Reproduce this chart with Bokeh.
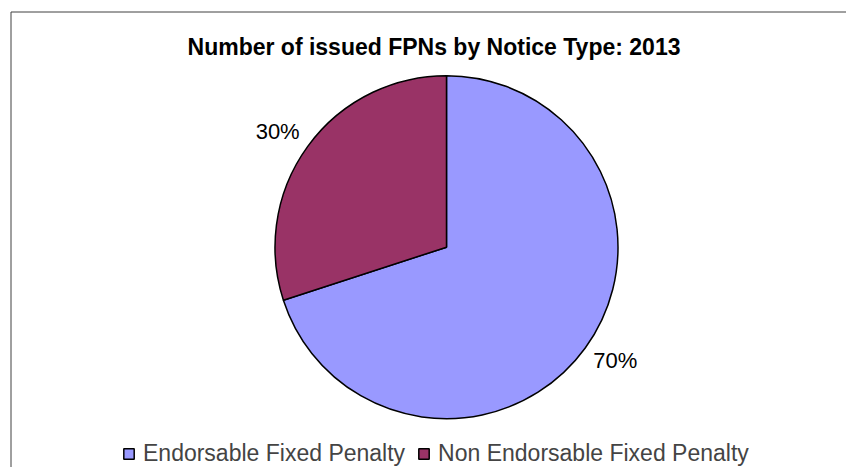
import math
from bokeh.plotting import figure
from bokeh.models import ColumnDataSource, Range1d, Label
from bokeh.core.properties import value
from bokeh.embed import file_html
from bokeh.resources import INLINE

# ---- data ----
categories = ["Endorsable Fixed Penalty", "Non Endorsable Fixed Penalty"]
shares = [70, 30]
colors = ["#9999FF", "#993366"]
title_text = "Number of issued FPNs by Notice Type: 2013"

# ---- layout ----
W, H = 846, 467
p = figure(width=W, height=H, output_backend="svg", toolbar_location=None,
           x_range=Range1d(0, W), y_range=Range1d(0, H),
           x_axis_type=None, y_axis_type=None, min_border=0)
p.grid.visible = False
p.outline_line_color = None
p.background_fill_color = "white"
p.border_fill_color = "white"


def px(x):
    return x


def py(y):
    return H - y


# chart border (top & left visible in the reference)
p.segment(x0=[px(10.5), px(10.5)], y0=[py(11.5), py(11.5)],
          x1=[W, px(10.5)], y1=[py(11.5), 0],
          line_color="#404040", line_width=1)

cx, cy, r = px(446), py(246.7), 171.5
total = float(sum(shares))
starts, ends, mids, labels = [], [], [], []
cum = 0.0
for s in shares:
    a_end = math.pi / 2 - 2 * math.pi * cum / total
    cum += s
    a_start = math.pi / 2 - 2 * math.pi * cum / total
    starts.append(a_start)
    ends.append(a_end)
    mids.append((a_start + a_end) / 2)
    labels.append(f"{round(100 * s / total)}%")

src = ColumnDataSource(dict(category=categories, share=shares, color=colors,
                            start=starts, end=ends))
p.wedge(x=cx, y=cy, radius=r, start_angle="start", end_angle="end",
        fill_color="color", line_color="black", line_width=1.5,
        legend_field="category", source=src)

# outside-end labels: nearest corner of the label box sits just outside the rim
gap, hw, hh, base_fix = 10, 22, 8, 1.5
lx, ly = [], []
for m in mids:
    c, s_ = math.cos(m), math.sin(m)
    lx.append(cx + (r + gap) * c + math.copysign(hw, c))
    ly.append(cy + (r + gap) * s_ + math.copysign(hh, s_) + base_fix)
lab_src = ColumnDataSource(dict(x=lx, y=ly, text=labels))
p.text(x="x", y="y", text="text", source=lab_src, text_align="center",
       text_baseline="middle", text_font=value("Liberation Sans"),
       text_font_size="22px", text_color="black")

p.add_layout(Label(x=px(433.5), y=py(46.7), text=title_text,
                   text_align="center", text_baseline="alphabetic",
                   text_font="Liberation Sans", text_font_style="bold",
                   text_font_size="23px", text_color="black"))

lg = p.legend[0]
lg.orientation = "horizontal"
lg.location = (px(122), 0)
lg.padding = 0
lg.margin = 0
lg.spacing = 12
lg.glyph_width = 13
lg.glyph_height = 13
lg.label_standoff = 8
lg.label_text_font = "Liberation Sans"
lg.label_text_font_size = "23px"
lg.border_line_color = None
lg.background_fill_alpha = 0

open("out.html", "w").write(file_html(p, INLINE))
